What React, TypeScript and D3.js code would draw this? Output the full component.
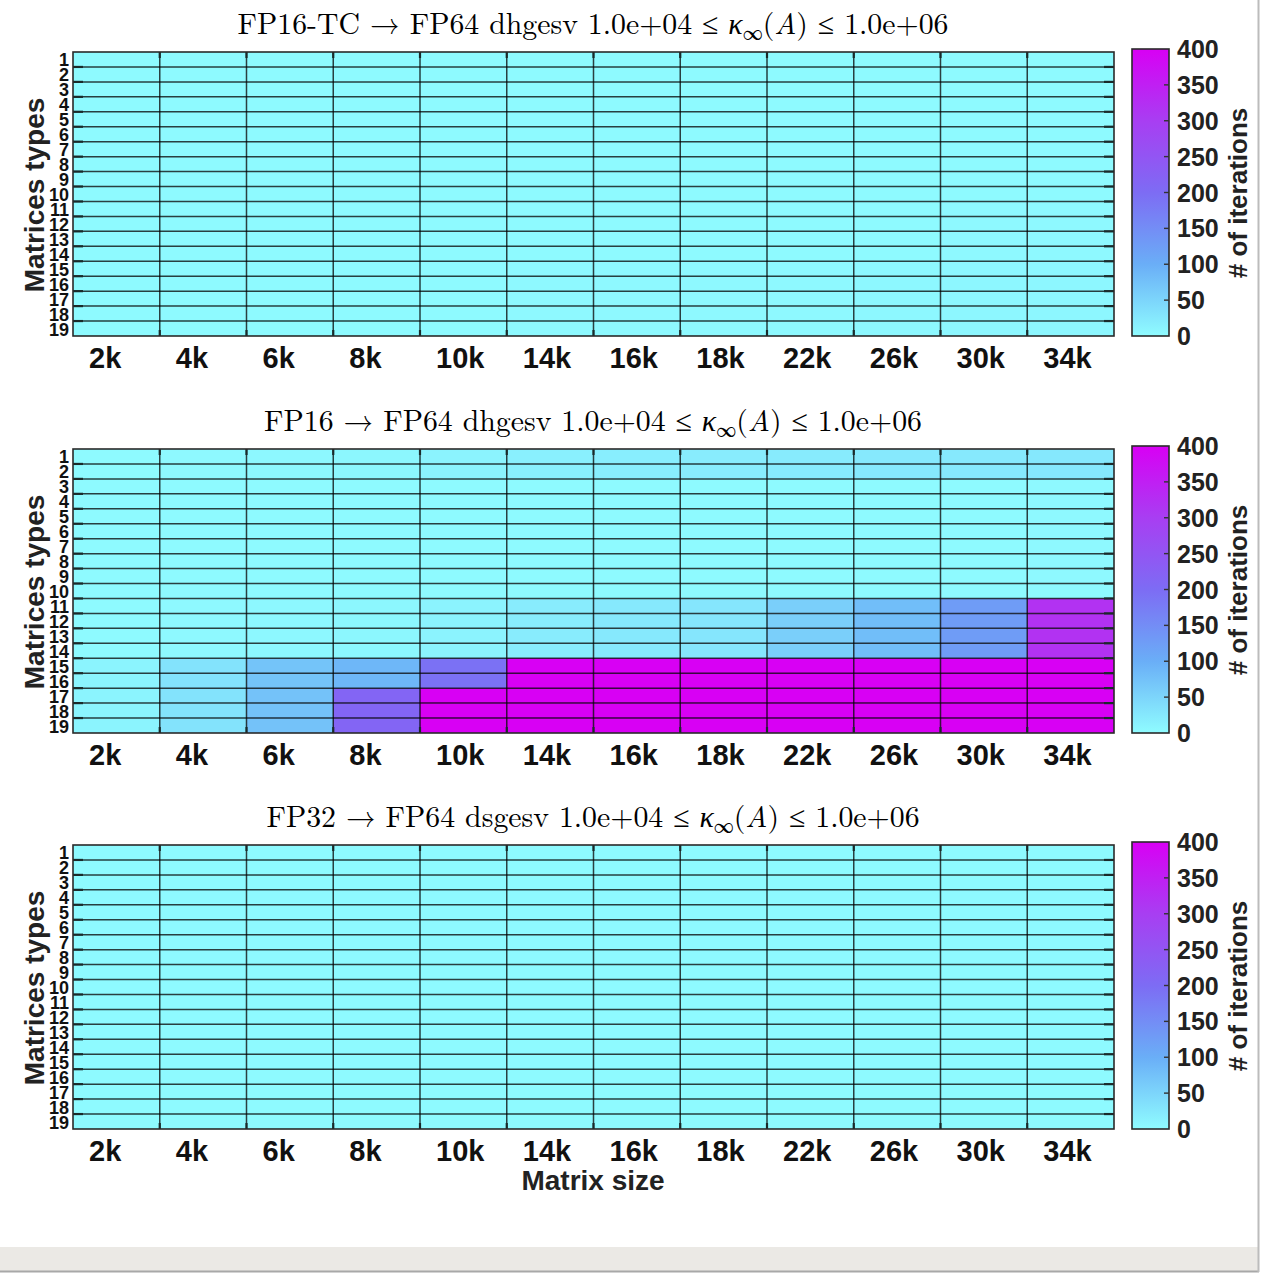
import { useRef, useEffect } from "react";
import * as d3 from "d3";

// matrix sizes (columns) and matrix types (rows)
const sizes = ["2k", "4k", "6k", "8k", "10k", "14k", "16k", "18k", "22k", "26k", "30k", "34k"];
const types = d3.range(1, 20).map(String);

// # of iterations, one row per matrix type
const fp16tcIters = [
  [2, 2, 2, 2, 2, 3, 3, 3, 3, 3, 3, 3],
  [2, 2, 2, 2, 2, 3, 3, 3, 3, 3, 3, 3],
  [2, 2, 2, 2, 2, 2, 2, 2, 2, 2, 3, 3],
  [2, 2, 2, 2, 2, 2, 2, 2, 2, 2, 3, 3],
  [2, 2, 2, 2, 2, 2, 2, 2, 2, 2, 3, 3],
  [2, 2, 2, 2, 2, 2, 2, 2, 2, 2, 3, 3],
  [2, 2, 2, 2, 2, 2, 2, 2, 2, 2, 3, 3],
  [2, 2, 2, 2, 2, 2, 2, 2, 2, 2, 3, 3],
  [2, 2, 2, 2, 2, 2, 2, 2, 2, 2, 3, 3],
  [2, 2, 2, 2, 2, 2, 2, 2, 2, 2, 3, 3],
  [2, 2, 2, 2, 3, 3, 3, 3, 3, 3, 4, 4],
  [2, 2, 2, 2, 3, 3, 3, 3, 3, 3, 4, 4],
  [2, 2, 2, 2, 3, 3, 3, 3, 3, 3, 4, 4],
  [2, 2, 2, 2, 3, 3, 3, 3, 3, 3, 4, 4],
  [3, 3, 3, 3, 3, 4, 4, 4, 4, 5, 6, 6],
  [3, 3, 3, 3, 3, 4, 4, 4, 4, 5, 6, 6],
  [3, 3, 3, 3, 3, 4, 4, 4, 4, 5, 6, 6],
  [3, 3, 3, 3, 3, 4, 4, 4, 4, 5, 6, 6],
  [3, 3, 3, 3, 3, 4, 4, 4, 4, 5, 6, 6],
];

const fp16Iters = [
  [3, 4, 5, 7, 11, 16, 18, 20, 22, 24, 24, 26],
  [3, 4, 5, 7, 11, 16, 18, 20, 22, 24, 24, 26],
  [2, 2, 2, 2, 3, 3, 3, 3, 3, 3, 3, 4],
  [2, 2, 2, 2, 3, 3, 3, 3, 3, 3, 3, 4],
  [2, 2, 2, 2, 3, 3, 3, 3, 3, 3, 3, 4],
  [2, 2, 2, 2, 3, 3, 3, 3, 3, 3, 3, 4],
  [2, 2, 2, 2, 3, 3, 3, 3, 3, 3, 3, 4],
  [2, 2, 2, 2, 3, 3, 3, 3, 3, 3, 3, 4],
  [2, 2, 2, 2, 3, 3, 3, 3, 3, 3, 3, 4],
  [2, 2, 2, 2, 3, 3, 3, 3, 3, 3, 3, 4],
  [3, 4, 5, 7, 12, 20, 24, 28, 58, 80, 128, 320],
  [3, 4, 5, 7, 12, 20, 24, 28, 58, 80, 128, 320],
  [3, 4, 5, 7, 12, 20, 24, 28, 58, 80, 128, 320],
  [3, 4, 5, 7, 12, 20, 24, 28, 58, 80, 128, 320],
  [10, 32, 72, 88, 192, 400, 400, 400, 400, 400, 400, 400],
  [10, 32, 72, 88, 192, 400, 400, 400, 400, 400, 400, 400],
  [10, 32, 74, 215, 400, 400, 400, 400, 400, 400, 400, 400],
  [10, 32, 74, 215, 400, 400, 400, 400, 400, 400, 400, 400],
  [10, 32, 74, 215, 400, 400, 400, 400, 400, 400, 400, 400],
];

const fp32Iters = [
  [2, 2, 2, 2, 2, 2, 2, 2, 2, 2, 2, 2],
  [2, 2, 2, 2, 2, 2, 2, 2, 2, 2, 2, 2],
  [2, 2, 2, 2, 2, 2, 2, 2, 2, 2, 2, 2],
  [2, 2, 2, 2, 2, 2, 2, 2, 2, 2, 2, 2],
  [2, 2, 2, 2, 2, 2, 2, 2, 2, 2, 2, 2],
  [2, 2, 2, 2, 2, 2, 2, 2, 2, 2, 2, 2],
  [2, 2, 2, 2, 2, 2, 2, 2, 2, 2, 2, 2],
  [2, 2, 2, 2, 2, 2, 2, 2, 2, 2, 2, 2],
  [2, 2, 2, 2, 2, 2, 2, 2, 2, 2, 2, 2],
  [2, 2, 2, 2, 2, 2, 2, 2, 2, 2, 2, 2],
  [2, 2, 2, 2, 2, 2, 2, 2, 2, 2, 2, 2],
  [2, 2, 2, 2, 2, 2, 2, 2, 2, 2, 2, 2],
  [2, 2, 2, 2, 2, 2, 2, 2, 2, 2, 2, 2],
  [2, 2, 2, 2, 2, 2, 2, 2, 2, 2, 2, 2],
  [2, 2, 2, 2, 2, 2, 2, 2, 2, 2, 2, 2],
  [2, 2, 2, 2, 2, 2, 2, 2, 2, 2, 2, 2],
  [2, 2, 2, 2, 2, 2, 2, 2, 2, 2, 2, 2],
  [2, 2, 2, 2, 2, 2, 2, 2, 2, 2, 2, 2],
  [2, 2, 2, 2, 2, 2, 2, 2, 2, 2, 2, 2],
];

const panelTitles = [
  { lead: "FP16-TC \u2192 FP64 dhgesv 1.0e+04 \u2264 ", iters: fp16tcIters },
  { lead: "FP16 \u2192 FP64 dhgesv 1.0e+04 \u2264 ", iters: fp16Iters },
  { lead: "FP32 \u2192 FP64 dsgesv 1.0e+04 \u2264 ", iters: fp32Iters },
];

const cbarTicks = [0, 50, 100, 150, 200, 250, 300, 350, 400];
const cmapStops = [0, 100, 200, 300, 400];
const cmapColors = ["#8ffcff", "#6aaef7", "#7d6cf4", "#a83ef2", "#d800f4"];

const W = 1268;
const H = 1278;
const SANS = "'Liberation Sans', Arial, Helvetica, sans-serif";
const SERIF = "'Latin Modern Roman', 'CMU Serif', 'Liberation Serif', 'Times New Roman', serif";

export default function App() {
  const svgRef = useRef<SVGSVGElement | null>(null);

  useEffect(() => {
    if (!svgRef.current) return;
    const svg = d3.select(svgRef.current);
    svg.selectAll("*").remove();

    const color = d3
      .scaleLinear<string>()
      .domain(cmapStops)
      .range(cmapColors)
      .interpolate(d3.interpolateRgb)
      .clamp(true);

    svg.append("rect").attr("width", W).attr("height", H).attr("fill", "#fff");

    // gradient for the colorbars
    const grad = svg
      .append("defs")
      .append("linearGradient")
      .attr("id", "cbar-grad")
      .attr("x1", 0)
      .attr("x2", 0)
      .attr("y1", 1)
      .attr("y2", 0);
    cmapStops.forEach((s, i) => {
      grad.append("stop").attr("offset", s / 400).attr("stop-color", cmapColors[i]);
    });

    const left = 73;
    const right = 1114;
    const plotH = 284;
    const tops = [52, 449, 845];

    const x = d3.scaleBand().domain(sizes).range([left, right]);

    panelTitles.forEach((panel, pi) => {
      const top = tops[pi];
      const bottom = top + plotH;
      const y = d3.scaleBand().domain(types).range([top, bottom]);
      const g = svg.append("g");

      // title
      const t = g
        .append("text")
        .attr("x", 593)
        .attr("y", top - 18)
        .attr("text-anchor", "middle")
        .attr("font-family", SERIF)
        .attr("font-size", 29.8)
        .attr("fill", "#000");
      t.append("tspan").text(panel.lead);
      t.append("tspan").attr("font-style", "italic").text("\u03ba");
      t.append("tspan").attr("font-size", 20).attr("dy", 6).text("\u221e");
      t.append("tspan").attr("dy", -6).text("(");
      t.append("tspan").attr("font-style", "italic").text("A");
      t.append("tspan").text(") \u2264 1.0e+06");

      // cells
      panel.iters.forEach((row, ri) => {
        g.selectAll(null)
          .data(row)
          .enter()
          .append("rect")
          .attr("x", (_, ci) => x(sizes[ci])!)
          .attr("y", y(types[ri])!)
          .attr("width", x.bandwidth())
          .attr("height", y.bandwidth())
          .attr("fill", (d) => color(d));
      });

      // grid lines
      const grid = g.append("g").attr("stroke", "#000").attr("stroke-opacity", 0.75).attr("stroke-width", 1.5);
      types.slice(1).forEach((tp) => {
        grid.append("line").attr("x1", left).attr("x2", right).attr("y1", y(tp)!).attr("y2", y(tp)!);
      });
      sizes.slice(1).forEach((s) => {
        grid.append("line").attr("x1", x(s)!).attr("x2", x(s)!).attr("y1", top).attr("y2", bottom);
      });

      // ticks
      const ticks = g.append("g").attr("stroke", "#1a2a2a").attr("stroke-width", 2.2);
      types.slice(1).forEach((tp) => {
        const yy = y(tp)!;
        ticks.append("line").attr("x1", left).attr("x2", left + 10).attr("y1", yy).attr("y2", yy);
        ticks.append("line").attr("x1", right - 10).attr("x2", right).attr("y1", yy).attr("y2", yy);
      });
      sizes.slice(1).forEach((s) => {
        const xx = x(s)!;
        ticks.append("line").attr("x1", xx).attr("x2", xx).attr("y1", top).attr("y2", top + 6);
        ticks.append("line").attr("x1", xx).attr("x2", xx).attr("y1", bottom - 6).attr("y2", bottom);
      });

      // frame
      g.append("rect")
        .attr("x", left)
        .attr("y", top)
        .attr("width", right - left)
        .attr("height", plotH)
        .attr("fill", "none")
        .attr("stroke", "#2a2a2a")
        .attr("stroke-width", 1.6);

      // y tick labels
      g.selectAll(null)
        .data(types)
        .enter()
        .append("text")
        .attr("x", 69)
        .attr("y", (d) => y(d)! + y.bandwidth() / 2 + 7)
        .attr("text-anchor", "end")
        .attr("font-family", SANS)
        .attr("font-weight", "bold")
        .attr("font-size", 18)
        .attr("fill", "#111")
        .text((d) => d);

      // x tick labels
      g.selectAll(null)
        .data(sizes)
        .enter()
        .append("text")
        .attr("x", (d) => x(d)! + 16)
        .attr("y", bottom + 32)
        .attr("font-family", SANS)
        .attr("font-weight", "bold")
        .attr("font-size", 29)
        .attr("fill", "#111")
        .text((d) => d);

      // y axis title
      g.append("text")
        .attr("transform", `translate(44,${top + 143}) rotate(-90)`)
        .attr("text-anchor", "middle")
        .attr("font-family", SANS)
        .attr("font-weight", "bold")
        .attr("font-size", 28)
        .attr("fill", "#222")
        .text("Matrices types");

      // colorbar
      const cbTop = top - 3;
      const cy = d3.scaleLinear().domain([0, 400]).range([bottom, cbTop]);
      const cbL = 1132;
      const cbR = 1169;
      g.append("rect")
        .attr("x", cbL)
        .attr("y", cbTop)
        .attr("width", cbR - cbL)
        .attr("height", bottom - cbTop)
        .attr("fill", "url(#cbar-grad)")
        .attr("stroke", "#2a2a2a")
        .attr("stroke-width", 1.6);
      cbarTicks.forEach((v) => {
        if (v > 0 && v < 400) {
          g.append("line")
            .attr("x1", cbR - 5)
            .attr("x2", cbR)
            .attr("y1", cy(v))
            .attr("y2", cy(v))
            .attr("stroke", "#333")
            .attr("stroke-width", 1.4);
        }
        g.append("text")
          .attr("x", 1177)
          .attr("y", cy(v) + 9)
          .attr("font-family", SANS)
          .attr("font-weight", "bold")
          .attr("font-size", 25)
          .attr("fill", "#222")
          .text(v);
      });
      g.append("text")
        .attr("transform", `translate(1247,${top + 141}) rotate(-90)`)
        .attr("text-anchor", "middle")
        .attr("font-family", SANS)
        .attr("font-weight", "bold")
        .attr("font-size", 26)
        .attr("fill", "#222")
        .text("# of iterations");

      if (pi === 2) {
        g.append("text")
          .attr("x", 593)
          .attr("y", bottom + 61)
          .attr("text-anchor", "middle")
          .attr("font-family", SANS)
          .attr("font-weight", "bold")
          .attr("font-size", 28)
          .attr("fill", "#222")
          .text("Matrix size");
      }
    });

    // window chrome at the right and bottom edges
    svg.append("rect").attr("x", 0).attr("y", 1247).attr("width", 1258).attr("height", 24).attr("fill", "#ebe9e5");
    svg.append("line").attr("x1", 0).attr("x2", 1259).attr("y1", 1271.5).attr("y2", 1271.5).attr("stroke", "#a8a8a8").attr("stroke-width", 2);
    svg.append("line").attr("x1", 1258.5).attr("x2", 1258.5).attr("y1", 0).attr("y2", 1272).attr("stroke", "#bcbcbc").attr("stroke-width", 2);
  }, []);

  return (
    <svg
      ref={svgRef}
      width={W}
      height={H}
      style={{ position: "absolute", left: 0, top: 0, display: "block" }}
    />
  );
}
